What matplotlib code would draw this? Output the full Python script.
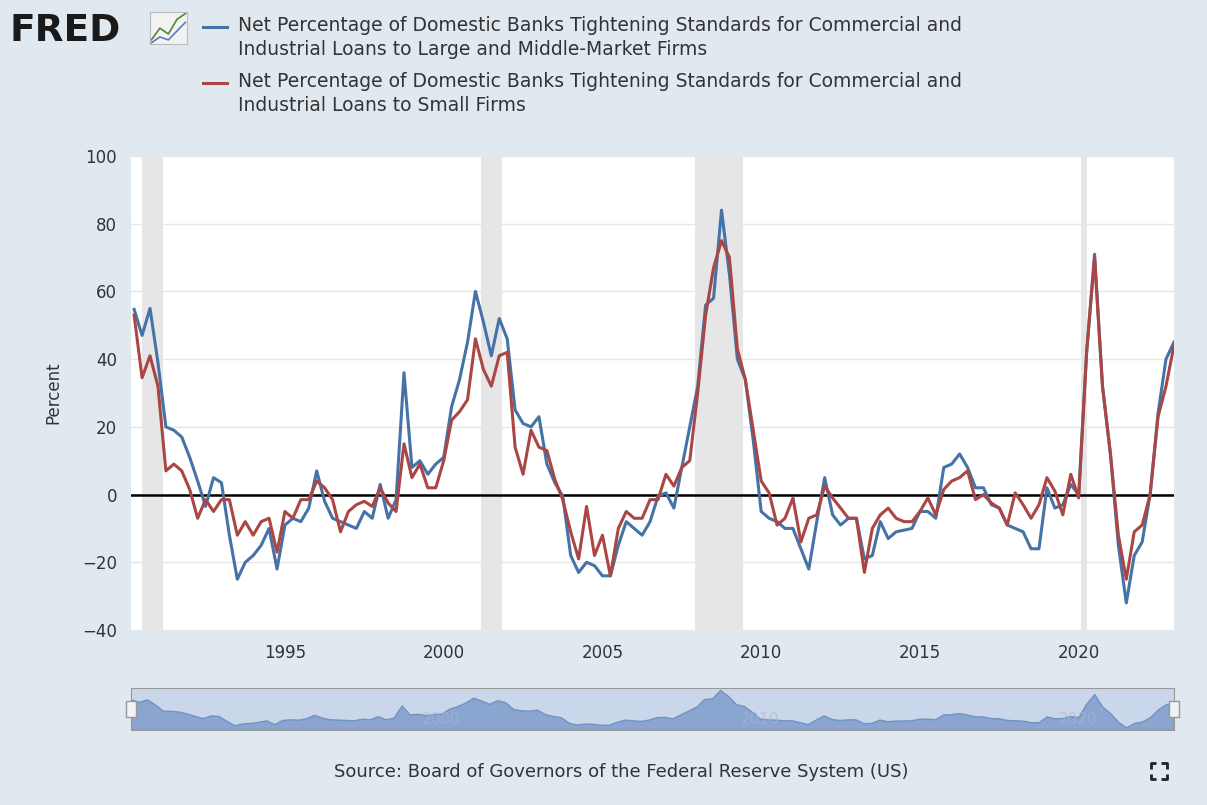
import numpy as np
import matplotlib
matplotlib.use("Agg")
import matplotlib.pyplot as plt

# quarterly, 1990Q2 .. 2023Q1
start_year = 1990.25
large = [54.7, 47, 55, 39, 20, 19, 17, 11, 4, -3.5, 5, 3.5, -12, -25, -20, -18,
         -15, -10, -22, -9, -7, -8, -4, 7, -2, -7, -8, -9, -10, -5, -7, 3,
         -7, -1.5, 36, 8, 10, 6, 9, 11, 26, 34, 45, 60, 51, 41, 52, 46,
         25, 21, 20, 23, 9, 3.5, -0.5, -18, -23, -20, -21, -24, -24, -15, -8, -10,
         -12, -8, -0.5, 0.5, -4, 8, 20, 32, 56, 58, 84, 65, 40, 34, 16,
         -5, -7, -8, -10, -10, -16, -22, -8, 5, -6, -9, -7, -7, -19, -18, -8,
         -13, -11, -10.5, -10, -5, -5, -7, 8, 9, 12, 8, 2, 2, -3, -4, -9,
         -10, -11, -16, -16, 2, -4, -3, 3, 0, 42, 71, 32, 12, -15, -32, -18,
         -14, 0, 24, 40, 45]
small = [53, 34.5, 41, 32, 7, 9, 7, 1.5, -7, -1.5, -5, -1.5, -1.5, -12, -8, -12,
         -8, -7, -17, -5, -7, -1.5, -1.5, 4, 2, -1.5, -11, -5, -3, -2, -3.5, 2,
         -2.5, -5, 15, 5, 9, 2, 2, 10, 22, 24.5, 28, 46, 37, 32, 41, 42,
         14, 6, 19, 14, 13, 4.5, -1.5, -11, -19, -3.5, -18, -12, -24, -10, -5, -7,
         -7, -1.5, -1.5, 6, 2.5, 8, 10, 30, 53, 67, 75, 70, 43, 34, 19,
         4, 0.5, -9, -7, -1, -14, -7, -6, 2.5, -1, -4, -7, -7, -23, -10, -6,
         -4, -7, -8, -8, -5, -1, -6, 1.5, 4, 5, 7, -1.5, 0, -2.5, -4, -9,
         0.5, -3, -7, -3, 5, 1, -6, 6, -1, 42, 70, 32, 12, -12, -25, -11,
         -9, 0, 23, 32, 44]
recessions = [(1990.5, 1991.17), (2001.17, 2001.83), (2007.92, 2009.42), (2020.08, 2020.25)]
label_large = ("Net Percentage of Domestic Banks Tightening Standards for Commercial and\n"
               "Industrial Loans to Large and Middle-Market Firms")
label_small = ("Net Percentage of Domestic Banks Tightening Standards for Commercial and\n"
               "Industrial Loans to Small Firms")

t = start_year + np.arange(len(large)) * 0.25
blue, red = "#4572a7", "#aa4643"
bg = "#e1e9f0"

fig = plt.figure(figsize=(12.07, 8.05), dpi=100, facecolor=bg)
ax = fig.add_axes([0.1085, 0.2174, 0.8641, 0.5888])
ax.set_facecolor("white")
for a, b in recessions:
    ax.axvspan(a, b, color="#e6e6e6", lw=0)
ax.axhline(0, color="black", lw=1.8, zorder=3)
ax.plot(t, large, color=blue, lw=2.2, zorder=4)
ax.plot(t, small, color=red, lw=2.2, zorder=5)
ax.set_xlim(1990.15, 2023.0)
ax.set_ylim(-40, 100)
ax.set_yticks(range(-40, 101, 20))
ax.set_xticks(range(1995, 2021, 5))
ax.grid(axis="y", color="#e6e6e6", lw=1)
ax.set_axisbelow(True)
for s in ax.spines.values():
    s.set_visible(False)
ax.tick_params(length=0, labelsize=12, colors="#333333", pad=10)
ax.set_ylabel("Percent", fontsize=12, color="#333333", labelpad=14)

# legend
for y0, col, lab in [(0.966, blue, label_large), (0.897, red, label_small)]:
    fig.add_artist(plt.Line2D([0.168, 0.188], [y0, y0], color=col, lw=2.2))
    fig.text(0.197, y0 + 0.014, lab, fontsize=13.5, color="#333333", va="top",
             linespacing=1.35)

# logo
fig.text(0.008, 0.962, "FRED", fontsize=27, fontweight="heavy", color="#1a1a1a", va="center")
lax = fig.add_axes([0.124, 0.945, 0.031, 0.04])
lax.set_facecolor("#f2f2f2")
lax.plot([0, 1, 2, 3, 4], [0.2, 0.6, 0.4, 0.9, 1.1], color="#4a8a3a", lw=1.2)
lax.plot([0, 1, 2, 3, 4], [0.1, 0.3, 0.2, 0.5, 0.8], color="#5a7fb5", lw=1.2)
lax.set_xticks([]); lax.set_yticks([])
for s in lax.spines.values():
    s.set_color("#bbbbbb")

# navigator
nav = fig.add_axes([0.1085, 0.0932, 0.8641, 0.0522])
nav.set_facecolor("#f0f3f8")
nav.fill_between(t, large, -40, color="#6d8fc4", alpha=0.9, lw=1, edgecolor="#4572a7")
nav.axvspan(t[0], t[-1], color="#9db4d9", alpha=0.45, lw=0)
nav.set_xlim(t[0], t[-1])
nav.set_ylim(-40, 90)
nav.set_xticks([]); nav.set_yticks([])
for s in nav.spines.values():
    s.set_color("#999999")
for yr in (2000, 2010, 2020):
    nav.text(yr, -30, str(yr), fontsize=11, color="#a8b8d0", ha="center", va="bottom", alpha=0.6)
for xh in (0.0, 1.0):
    nav.add_patch(plt.Rectangle((xh - 0.005, 0.3), 0.01, 0.4, transform=nav.transAxes,
                                facecolor="#f2f2f2", edgecolor="#999999", lw=1, clip_on=False, zorder=6))

fig.text(0.515, 0.041, "Source: Board of Governors of the Federal Reserve System (US)",
         fontsize=13, color="#333333", ha="center", va="center")

# fullscreen icon: four corner brackets
cx, cy, h = 0.96, 0.042, 0.010
for sx in (-1, 1):
    for sy in (-1, 1):
        fig.add_artist(plt.Line2D([cx + sx * h * 0.67, cx + sx * h * 0.67, cx + sx * h * 0.2],
                                  [cy + sy * h * 0.3, cy + sy * h, cy + sy * h],
                                  color="#222222", lw=2, solid_capstyle="butt"))

fig.savefig("out.png", dpi=100, facecolor=bg)
